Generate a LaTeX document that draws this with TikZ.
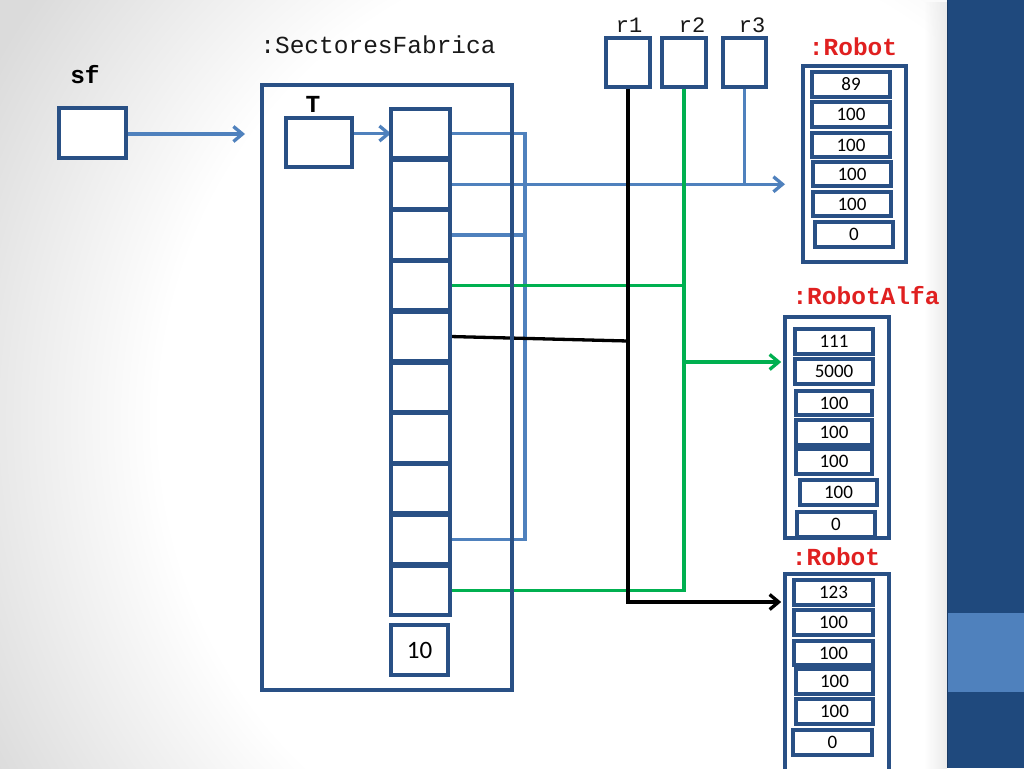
\documentclass[tikz,border=0pt]{standalone}
\usepackage{fontspec}
\setmonofont{Liberation Mono}
\newfontfamily\numfont{Carlito}
\usetikzlibrary{arrows.meta,fadings}
\definecolor{boxblue}{RGB}{41,80,133}
\definecolor{lineblue}{RGB}{79,129,189}
\definecolor{lgreen}{RGB}{0,176,80}
\definecolor{lred}{RGB}{224,32,32}
\definecolor{barblue}{RGB}{31,73,125}
\definecolor{bandblue}{RGB}{79,129,189}
\definecolor{lblgray}{RGB}{25,25,25}
\pgfdeclareradialshading{bgvig}{\pgfpoint{0bp}{0bp}}{color(0bp)=(white); color(15bp)=(white); color(23bp)=(black!14); color(50bp)=(black!14)}
\begin{document}
\begin{tikzpicture}[x=1pt,y=-1pt,
  box/.style={draw=boxblue, line width=3.6pt, fill=white, inner sep=0pt, rectangle},
  cellbox/.style={box, minimum width=59pt, minimum height=49pt},
  numbox/.style={box, minimum height=25pt, font=\numfont\fontsize{19}{20}\selectfont},
  lbl/.style={inner sep=0pt, anchor=base, text=lblgray, font=\ttfamily\fontsize{24.5}{26}\selectfont},
  blbl/.style={lbl, text=black, font=\ttfamily\bfseries\fontsize{24.5}{26}\selectfont},
  rlbl/.style={lbl, text=lred, font=\ttfamily\bfseries\fontsize{24.5}{26}\selectfont},
  conn/.style={line width=3.3pt},
  tip/.style={-{Straight Barb[length=9pt,width=15pt]}}
]
\useasboundingbox (0,0) rectangle (1024,768);
% background
\begin{scope}
\clip (0,0) rectangle (1024,768);
\shade[shading=bgvig] (640,420) circle (800);
\end{scope}
\fill[black!8, path fading=west] (924,0) rectangle (947,768);
\fill[barblue] (947,0) rectangle (1024,768);
\fill[bandblue] (947,613) rectangle (1024,692);
\draw[barblue!80!black, line width=1pt] (947.5,0) -- (947.5,768);

% labels
\node[blbl] (lsf) at (85,83) {sf};
\node[lbl] (lsfab) at (378,53) {:SectoresFabrica};
\node[blbl] (lT) at (313,112) {T};
\node[lbl, font=\ttfamily\fontsize{22}{24}\selectfont] (lr1) at (629,33) {r1};
\node[lbl, font=\ttfamily\fontsize{22}{24}\selectfont] (lr2) at (692,33) {r2};
\node[lbl, font=\ttfamily\fontsize{22}{24}\selectfont] (lr3) at (752,33) {r3};
\node[rlbl] (lra) at (853,56) {:Robot};
\node[rlbl] (lrb) at (866,304) {:RobotAlfa};
\node[rlbl] (lrc) at (836,565) {:Robot};

% boxes whose anchors the connectors use
\node[box, minimum width=67pt, minimum height=50pt] (sf) at (92.5,133) {};
\node[box, minimum width=66pt, minimum height=49pt] (T) at (319,142.5) {};
\node[box, minimum width=44pt, minimum height=49pt] (r1) at (628,62.5) {};
\node[box, minimum width=44pt, minimum height=49pt] (r2) at (684,62.5) {};
\node[box, minimum width=43pt, minimum height=49pt] (r3) at (744.5,62.5) {};
\node[box, minimum width=103pt, minimum height=196pt] (ra) at (854.5,164) {};
\node[box, minimum width=104pt, minimum height=221pt] (rb) at (837,427.5) {};
\node[box, minimum width=104pt, minimum height=226pt] (rc) at (837,687) {};

% connectors
\coordinate (sfend) at (245,134);
\draw[conn, lineblue, tip] (sf.east |- sfend) -- (sfend);

\foreach \i in {1,...,10}
  \path (420.5,{109+50.75*(\i-1)+24.5}) coordinate (cp\i);
\coordinate (bus) at (525,0);
\coordinate (raend) at (785,184.25);
% light blue
\draw[conn, lineblue] ([xshift=29.5pt]cp1) -- (bus |- cp1) -- (bus |- cp9) -- ([xshift=29.5pt]cp9);
\draw[conn, lineblue] ([xshift=29.5pt]cp3) -- (bus |- cp3);
\draw[conn, lineblue, tip] ([xshift=29.5pt]cp2) -- (raend);
\draw[conn, lineblue] (r3.south) -- (r3.south |- cp2);
% green
\coordinate (gy) at (0,362);
\draw[conn, lgreen] ([xshift=29.5pt]cp4) -- (r2.south |- cp4);
\draw[conn, lgreen] (r2.south) -- (r2.south |- cp10) -- ([xshift=29.5pt]cp10);
\draw[conn, lgreen, tip] (r2.south |- gy) -- ([xshift=-2pt]rb.west |- gy);
% black
\coordinate (by1) at (0,341);
\coordinate (by2) at (0,602);
\draw[conn, black] ([xshift=29.5pt]cp5) -- (r1.south |- by1);
\draw[conn, black, tip] (r1.south) -- (r1.south |- by2) -- ([xshift=-2pt]rc.west |- by2);

% T arrow
\draw[conn, lineblue, tip] (T.east |- cp1) -- ([xshift=-29.5pt]cp1);

% redraw boxes on top of the connectors
\node[box, minimum width=67pt, minimum height=50pt] at (sf) {};
\node[box, minimum width=66pt, minimum height=49pt] at (T) {};
\node[box, fill=none, minimum width=250pt, minimum height=605pt] (sfab) at (387,387.5) {};
\foreach \i in {1,...,10}
  \node[cellbox] (c\i) at (cp\i) {};
\node[box, minimum width=57pt, minimum height=50pt, font=\numfont\fontsize{25}{26}\selectfont] (ten) at (419.5,650) {10};
\node[box, minimum width=44pt, minimum height=49pt] at (r1) {};
\node[box, minimum width=44pt, minimum height=49pt] at (r2) {};
\node[box, minimum width=43pt, minimum height=49pt] at (r3) {};
\node[box, minimum width=103pt, minimum height=196pt] at (ra) {};
\node[box, minimum width=104pt, minimum height=221pt] at (rb) {};
\node[box, minimum width=104pt, minimum height=226pt] at (rc) {};

% Robot 1 fields
\node[numbox, minimum width=78pt] (a1) at (851,84.5) {89};
\node[numbox, minimum width=78pt] (a2) at (851,114.5) {100};
\node[numbox, minimum width=78pt, minimum height=24pt] (a3) at (851,145) {100};
\node[numbox, minimum width=78pt, minimum height=24pt] (a4) at (852,174) {100};
\node[numbox, minimum width=78pt, minimum height=24pt] (a5) at (852,204) {100};
\node[numbox, minimum width=78pt] (a6) at (854,234.5) {0};
% RobotAlfa fields
\node[numbox, minimum width=78pt] (b1) at (834,341.5) {111};
\node[numbox, minimum width=78pt] (b2) at (834,371.5) {5000};
\node[numbox, minimum width=76pt, minimum height=24pt] (b3) at (834,403) {100};
\node[numbox, minimum width=76pt] (b4) at (834,432.5) {100};
\node[numbox, minimum width=76pt] (b5) at (834,461.5) {100};
\node[numbox, minimum width=77pt] (b6) at (838.5,492.5) {100};
\node[numbox, minimum width=78pt] (b7) at (836,524.5) {0};
% Robot 3 fields
\node[numbox, minimum width=79pt] (d1) at (833.5,592.5) {123};
\node[numbox, minimum width=79pt] (d2) at (833.5,622.5) {100};
\node[numbox, minimum width=79pt, minimum height=24pt] (d3) at (833.5,653) {100};
\node[numbox, minimum width=77pt] (d4) at (834.5,681.5) {100};
\node[numbox, minimum width=77pt] (d5) at (834.5,711.5) {100};
\node[numbox, minimum width=79pt] (d6) at (832.5,742.5) {0};
\end{tikzpicture}
\end{document}
